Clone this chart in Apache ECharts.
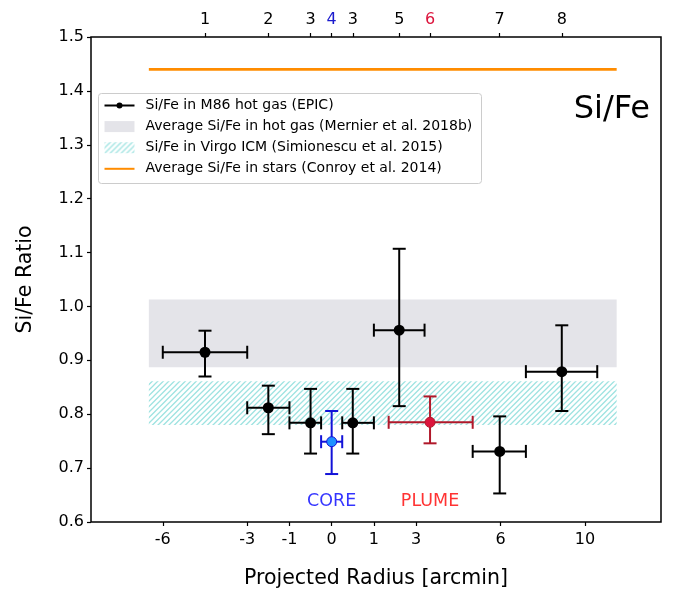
<!DOCTYPE html>
<html>
<head>
<meta charset="utf-8">
<script src="https://cdn.jsdelivr.net/npm/echarts@6/dist/echarts.min.js"></script>
<style>
  html, body { margin: 0; padding: 0; background: #ffffff; }
  #chart { width: 681px; height: 594px; }
</style>
</head>
<body>
<div id="chart"></div>
<script>
// Bottom axis: positions on the display scale and the radius each one stands for
const radiusTickPos = [-4, -2, -1, 0, 1, 2, 4, 6];
const radiusTickLabels = ['-6', '-3', '-1', '0', '1', '3', '6', '10'];

// Top axis: extraction region numbers
const regionTickPos = [-3, -1.5, -0.5, 0, 0.5, 1.6, 2.33, 3.98, 5.45];
const regionTickLabels = ['1', '2', '3', '4', '3', '5', '6', '7', '8'];

// Si/Fe in M86 hot gas (EPIC), regions 1, 2, 3, 3, 5, 7, 8
const gasX   = [-3, -1.5, -0.5, 0.5, 1.6, 3.98, 5.45];
const gasXLo = [-4, -2, -1, 0.25, 1.0, 3.34, 4.6];
const gasXHi = [-2, -1, -0.25, 1.0, 2.2, 4.6, 6.29];
const gasY   = [0.915, 0.812, 0.784, 0.784, 0.956, 0.731, 0.879];
const gasYLo = [0.870, 0.763, 0.727, 0.727, 0.815, 0.653, 0.806];
const gasYHi = [0.955, 0.853, 0.847, 0.847, 1.107, 0.796, 0.965];

// Core (region 4)
const coreX = [0];
const coreXLo = [-0.25];
const coreXHi = [0.25];
const coreY = [0.749];
const coreYLo = [0.689];
const coreYHi = [0.806];

// Plume (region 6)
const plumeX = [2.33];
const plumeXLo = [1.35];
const plumeXHi = [3.34];
const plumeY = [0.785];
const plumeYLo = [0.746];
const plumeYHi = [0.833];

// Reference levels
const refSpan = [-4.33, 6.75];
const hotGasBand = [0.887, 1.013];   // Mernier et al. 2018b
const virgoBand = [0.780, 0.861];    // Simionescu et al. 2015
const starsLevel = 1.44;             // Conroy et al. 2014

// Region annotations under the points
const annoX = [0, 2.33];
const annoY = [0.638, 0.638];
const annoText = ['CORE', 'PLUME'];

const FONT = 'DejaVu Sans';
const HATCH_COLOR = '#9fe3e1';
const GRAY_BAND = '#e4e4e9';

// Diagonal "////" hatch tile
function makeHatch() {
  const s = 11;
  const c = document.createElement('canvas');
  c.width = s; c.height = s;
  const g = c.getContext('2d');
  g.strokeStyle = HATCH_COLOR;
  g.lineWidth = 1.3;
  g.beginPath();
  for (const off of [-s, -s / 2, 0, s / 2, s]) {
    g.moveTo(off - 2, s + 2);
    g.lineTo(off + s + 2, -2);
  }
  g.stroke();
  return c;
}
const hatchCanvas = makeHatch();

function rows() {
  const out = [];
  const cols = arguments;
  for (let i = 0; i < cols[0].length; i++) {
    out.push(Array.prototype.map.call(cols, a => a[i]));
  }
  return out;
}

function bandItem(fill) {
  return function (params, api) {
    const p0 = api.coord([api.value(0), api.value(3)]);
    const p1 = api.coord([api.value(1), api.value(2)]);
    return {
      type: 'rect',
      shape: { x: p0[0], y: p0[1], width: p1[0] - p0[0], height: p1[1] - p0[1] },
      style: { fill: fill }
    };
  };
}

function errorBarItem(color) {
  const cap = 6.5;
  return function (params, api) {
    const x = api.value(0), xl = api.value(1), xh = api.value(2);
    const y = api.value(3), yl = api.value(4), yh = api.value(5);
    const l = api.coord([xl, y]);
    const r = api.coord([xh, y]);
    const t = api.coord([x, yh]);
    const b = api.coord([x, yl]);
    const st = { stroke: color, lineWidth: 2, lineCap: 'butt' };
    const seg = (x1, y1, x2, y2) => ({ type: 'line', shape: { x1, y1, x2, y2 }, style: st });
    return {
      type: 'group',
      children: [
        seg(l[0], l[1], r[0], r[1]),
        seg(t[0], t[1], b[0], b[1]),
        seg(l[0], l[1] - cap, l[0], l[1] + cap),
        seg(r[0], r[1] - cap, r[0], r[1] + cap),
        seg(t[0] - cap, t[1], t[0] + cap, t[1]),
        seg(b[0] - cap, b[1], b[0] + cap, b[1])
      ]
    };
  };
}

function labelFor(positions, labels) {
  return function (v) {
    for (let i = 0; i < positions.length; i++) {
      if (Math.abs(positions[i] - v) < 1e-6) return labels[i];
    }
    return '';
  };
}

const chart = echarts.init(document.getElementById('chart'), null, { renderer: 'canvas' });

const legendRows = [
  { text: 'Si/Fe in M86 hot gas (EPIC)', kind: 'errpoint' },
  { text: 'Average Si/Fe in hot gas (Mernier et al. 2018b)', kind: 'gray' },
  { text: 'Si/Fe in Virgo ICM (Simionescu et al. 2015)', kind: 'hatch' },
  { text: 'Average Si/Fe in stars (Conroy et al. 2014)', kind: 'orange' }
];

function legendGraphic() {
  const children = [{
    type: 'rect',
    shape: { x: 0, y: 0, width: 383, height: 90, r: 3 },
    style: { fill: 'rgba(255,255,255,0.8)', stroke: '#cccccc', lineWidth: 1 }
  }];
  legendRows.forEach((row, i) => {
    const cy = 12 + i * 21.1;
    if (row.kind === 'errpoint') {
      children.push({ type: 'line', shape: { x1: 6, y1: cy, x2: 36, y2: cy }, style: { stroke: '#000', lineWidth: 2 } });
      children.push({ type: 'circle', shape: { cx: 21, cy: cy, r: 3 }, style: { fill: '#000' } });
    } else if (row.kind === 'gray') {
      children.push({ type: 'rect', shape: { x: 6, y: cy - 5.5, width: 30, height: 11 }, style: { fill: GRAY_BAND } });
    } else if (row.kind === 'hatch') {
      children.push({ type: 'rect', shape: { x: 6, y: cy - 5.5, width: 30, height: 11 }, style: { fill: { image: hatchCanvas, repeat: 'repeat' } } });
    } else {
      children.push({ type: 'line', shape: { x1: 6, y1: cy, x2: 36, y2: cy }, style: { stroke: '#ff8c00', lineWidth: 2 } });
    }
    children.push({
      type: 'text', x: 47, y: cy,
      style: { text: row.text, font: '14px "' + FONT + '"', fill: '#000', verticalAlign: 'middle', align: 'left' }
    });
  });
  return { type: 'group', left: 98, top: 93, z: 100, children };
}

const option = {
  backgroundColor: '#ffffff',
  animation: false,
  textStyle: { fontFamily: FONT },
  grid: {
    left: 91, right: 20, top: 37, bottom: 72,
    show: true, borderColor: '#000', borderWidth: 1.5, backgroundColor: 'transparent',
    containLabel: false
  },
  xAxis: [
    {
      type: 'value', position: 'bottom', min: -5.7, max: 7.8,
      splitLine: { show: false },
      axisLine: { show: false, onZero: false },
      axisTick: { show: true, inside: false, length: 4, lineStyle: { color: '#000', width: 1.2 }, customValues: radiusTickPos },
      axisLabel: {
        show: true, margin: 10, color: '#000', fontSize: 16, fontFamily: FONT,
        customValues: radiusTickPos,
        formatter: labelFor(radiusTickPos, radiusTickLabels)
      },
      name: 'Projected Radius [arcmin]', nameLocation: 'middle', nameGap: 46,
      nameTextStyle: { fontSize: 20.5, color: '#000', fontFamily: FONT }
    },
    {
      type: 'value', position: 'top', min: -5.7, max: 7.8,
      splitLine: { show: false },
      axisLine: { show: false, onZero: false },
      axisTick: { show: true, inside: false, length: 4, lineStyle: { color: '#000', width: 1.2 }, customValues: regionTickPos },
      axisLabel: {
        show: true, margin: 9, color: '#000', fontSize: 16, fontFamily: FONT,
        customValues: regionTickPos,
        formatter: function (v) {
          const s = labelFor(regionTickPos, regionTickLabels)(v);
          if (Math.abs(v - coreX[0]) < 1e-6) return '{core|' + s + '}';
          if (Math.abs(v - plumeX[0]) < 1e-6) return '{plume|' + s + '}';
          return s;
        },
        rich: {
          core: { color: '#1a1acd', fontSize: 16, fontFamily: FONT },
          plume: { color: '#dc143c', fontSize: 16, fontFamily: FONT }
        }
      }
    }
  ],
  yAxis: {
    type: 'value', min: 0.6, max: 1.5, interval: 0.1,
    splitLine: { show: false },
    axisLine: { show: false, onZero: false },
    axisTick: { show: true, inside: false, length: 4, lineStyle: { color: '#000', width: 1.2 } },
    axisLabel: {
      margin: 7, color: '#000', fontSize: 16, fontFamily: FONT,
      formatter: v => v.toFixed(1)
    },
    name: 'Si/Fe Ratio', nameLocation: 'middle', nameGap: 55,
    nameTextStyle: { fontSize: 20.5, color: '#000', fontFamily: FONT }
  },
  graphic: [
    legendGraphic(),
    {
      type: 'text', right: 31, top: 94, z: 100,
      style: { text: 'Si/Fe', font: '32px "' + FONT + '"', fill: '#000' }
    }
  ],
  series: [
    {
      type: 'custom', name: 'hot gas band', z: 1,
      renderItem: bandItem(GRAY_BAND),
      encode: { x: [0, 1], y: [2, 3] },
      data: [[refSpan[0], refSpan[1], hotGasBand[0], hotGasBand[1]]],
      silent: true
    },
    {
      type: 'custom', name: 'Virgo band', z: 1,
      renderItem: bandItem({ image: hatchCanvas, repeat: 'repeat' }),
      encode: { x: [0, 1], y: [2, 3] },
      data: [[refSpan[0], refSpan[1], virgoBand[0], virgoBand[1]]],
      silent: true
    },
    {
      type: 'line', name: 'stars', z: 2,
      data: [[refSpan[0], starsLevel], [refSpan[1], starsLevel]],
      symbol: 'none',
      lineStyle: { color: '#ff8c00', width: 2.6 },
      silent: true
    },
    {
      type: 'custom', name: 'gas errors', z: 3,
      renderItem: errorBarItem('#000000'),
      encode: { x: [0, 1, 2], y: [3, 4, 5] },
      data: rows(gasX, gasXLo, gasXHi, gasY, gasYLo, gasYHi)
    },
    {
      type: 'custom', name: 'core errors', z: 3,
      renderItem: errorBarItem('#1212d8'),
      encode: { x: [0, 1, 2], y: [3, 4, 5] },
      data: rows(coreX, coreXLo, coreXHi, coreY, coreYLo, coreYHi)
    },
    {
      type: 'custom', name: 'plume errors', z: 3,
      renderItem: errorBarItem('#b0182a'),
      encode: { x: [0, 1, 2], y: [3, 4, 5] },
      data: rows(plumeX, plumeXLo, plumeXHi, plumeY, plumeYLo, plumeYHi)
    },
    {
      type: 'scatter', name: 'gas', z: 4,
      data: rows(gasX, gasY),
      symbol: 'circle', symbolSize: 11,
      itemStyle: { color: '#000', opacity: 1 }
    },
    {
      type: 'scatter', name: 'core', z: 4,
      data: rows(coreX, coreY),
      symbol: 'circle', symbolSize: 10,
      itemStyle: { color: '#1e90ff', borderColor: '#1212d8', borderWidth: 1, opacity: 1 }
    },
    {
      type: 'scatter', name: 'plume', z: 4,
      data: rows(plumeX, plumeY),
      symbol: 'circle', symbolSize: 10,
      itemStyle: { color: '#dc143c', borderColor: '#b0182a', borderWidth: 1, opacity: 1 }
    },
    {
      type: 'scatter', name: 'annotations', z: 5,
      data: annoX.map((x, i) => ({
        value: [x, annoY[i]],
        name: annoText[i],
        label: { color: i === 0 ? '#0000ff' : '#ff0000' }
      })),
      symbolSize: 0,
      label: {
        show: true, position: 'inside', fontSize: 17.5, fontFamily: FONT,
        formatter: p => p.name
      },
      silent: true
    }
  ]
};

chart.setOption(option);
</script>
</body>
</html>
